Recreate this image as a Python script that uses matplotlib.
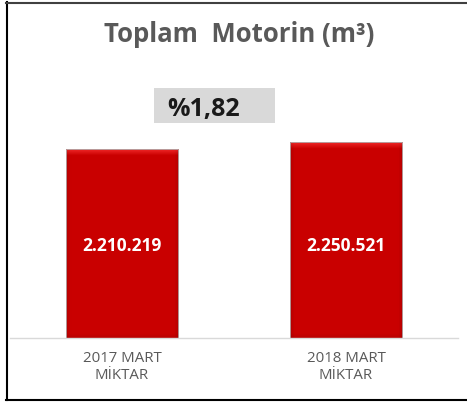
import matplotlib
matplotlib.use("Agg")
import matplotlib.pyplot as plt
import numpy as np
from matplotlib.patches import Rectangle
from matplotlib.lines import Line2D

plt.rcParams["font.family"] = ["Open Sans", "DejaVu Sans"]

# data
categories = ["2017 MART\nMİKTAR", "2018 MART\nMİKTAR"]
values = [2210219, 2250521]
value_labels = ["2.210.219", "2.250.521"]
change_label = "%1,82"
title = "Toplam  Motorin (m³)"

W, H = 467, 405
fig = plt.figure(figsize=(W / 100, H / 100), dpi=100)


def fx(px):
    return px / W


def fy(py):
    return 1 - py / H


YMIN, YMAX = 1126700, 2494000

# axes: baseline at y=337.5px, top at y=100px
ax = fig.add_axes([fx(10), fy(337.5), fx(448), (337.5 - 100) / H])
x = np.arange(len(values))
bars = ax.bar(x, values, width=0.504, color="#c80000", edgecolor="none", zorder=1.1)

# bevel-like shading over each bar
ny, nx = 200, 60
yy = np.linspace(0, 1, ny)[:, None]
xx = np.linspace(0, 1, nx)[None, :]
top = np.clip(1 - (1 - yy) * 32, 0, 1)
side = np.clip(1 - np.minimum(xx, 1 - xx) * 28, 0, 1)
bot = np.clip(1 - yy * 45, 0, 1)
r = 0.79 + 0.14 * top - 0.07 * side - 0.06 * bot
g = 0.15 * top + 0 * xx
rgb = np.dstack([np.clip(r, 0, 1), np.clip(g, 0, 1), np.clip(g, 0, 1)])
for b in bars:
    x0, w, h = b.get_x(), b.get_width(), b.get_height()
    ax.imshow(rgb, extent=(x0, x0 + w, YMIN, h), origin="lower",
              aspect="auto", zorder=1.2)
    ax.add_patch(Rectangle((x0, YMIN), w, h - YMIN, fill=False, edgecolor="#b0b0b0",
                           linewidth=0.6, zorder=1.3))
ax.set_xlim(-0.5, 1.5)
ax.set_ylim(YMIN, YMAX)

for i, lab in enumerate(value_labels):
    ax.text(x[i], 0.365, lab, transform=ax.get_xaxis_transform(), ha="center",
            va="baseline", color="white", fontsize=12.5, fontweight="bold", zorder=4)

ax.set_xticks(x)
ax.set_xticklabels(categories, fontsize=10.8, color="#595959", linespacing=1.15)
ax.tick_params(axis="x", length=0, pad=10)
ax.set_yticks([])
for s in ["top", "right", "left"]:
    ax.spines[s].set_visible(False)
ax.spines["bottom"].set_color("#d9d9d9")
ax.spines["bottom"].set_linewidth(1.0)
ax.spines["bottom"].set_zorder(3)
ax.set_facecolor("none")

# title
fig.text(fx(239), fy(42), title, ha="center", va="baseline", fontsize=18.5,
         fontweight="bold", color="#595959")

# change box
fig.add_artist(Rectangle((fx(154), fy(123)), fx(121), (123 - 88) / H,
                         transform=fig.transFigure, facecolor="#d9d9d9",
                         edgecolor="none"))
fig.text(fx(203.5), fy(116), change_label, ha="center", va="baseline",
         fontsize=18, fontweight="bold", color="#1a1a1a")

# frame
fig.add_artist(Line2D([fx(6.5), fx(6.5)], [fy(2), fy(399.5)], color="black", lw=1.5,
                      transform=fig.transFigure))
fig.add_artist(Line2D([fx(6), fx(467)], [fy(2.5), fy(2.5)], color="#404040", lw=1.5,
                      transform=fig.transFigure))
fig.add_artist(Line2D([fx(6), fx(467)], [fy(399.5), fy(399.5)], color="black", lw=1.5,
                      transform=fig.transFigure))

fig.savefig("out.png", dpi=100)
